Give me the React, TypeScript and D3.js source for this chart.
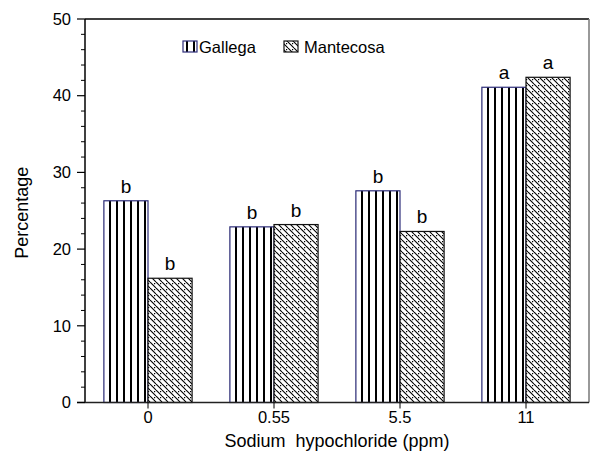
import React from "react";
import * as d3 from "d3";

// chart data
const categories = ["0", "0.55", "5.5", "11"];
const series = ["Gallega", "Mantecosa"];
const gallega = [26.3, 22.9, 27.6, 41.1];
const mantecosa = [16.2, 23.2, 22.3, 42.4];
const gallegaLetters = ["b", "b", "b", "a"];
const mantecosaLetters = ["b", "b", "b", "a"];
const yTicks = [0, 10, 20, 30, 40, 50];

const width = 590;
const height = 462;
const margin = { top: 19, right: 1, bottom: 60, left: 85 };
const font = "Arial, 'Liberation Sans', sans-serif";

const App = () => {
  const x = d3
    .scaleBand()
    .domain(categories)
    .range([margin.left, width - margin.right])
    .paddingInner(0.3)
    .paddingOuter(0.15);

  const sub = d3.scaleBand().domain(series).range([0, x.bandwidth()]);

  const y = d3
    .scaleLinear()
    .domain([0, 50])
    .range([height - margin.bottom + 0.5, margin.top]);

  const minorTicks = d3.range(0, 51, 2).filter((v) => v % 10 !== 0);
  const x0 = margin.left;
  const x1 = width - margin.right;
  const yTop = y(50);
  const yBase = y(0);

  const values = [gallega, mantecosa];
  const letters = [gallegaLetters, mantecosaLetters];
  const fills = ["url(#vert)", "url(#diag)"];
  const strokes = ["#2e2e7a", "#111"];

  return (
    <svg
      width={width}
      height={height}
      style={{ position: "absolute", left: 0, top: 0, background: "#fff" }}
      fontFamily={font}
    >
      <defs>
        {/* vertical stripes for Gallega */}
        <pattern id="vert" width="7" height="7" patternUnits="userSpaceOnUse">
          <rect width="7" height="7" fill="#fff" />
          <rect x="4" width="2" height="7" fill="#000" />
        </pattern>
        {/* diagonal lines with dots for Mantecosa */}
        <pattern id="diag" width="6" height="6" patternUnits="userSpaceOnUse">
          <rect width="6" height="6" fill="#fff" />
          <path d="M0,0 L6,6 M-3,3 L0,6 M3,-3 L6,0" stroke="#000" strokeWidth="1.1" />
          <rect x="4" y="1" width="1.2" height="1.2" fill="#000" />
        </pattern>
      </defs>

      {/* bars */}
      {categories.map((c, i) =>
        series.map((s, k) => {
          const bx = (x(c) ?? 0) + (sub(s) ?? 0);
          const by = y(values[k][i]);
          return (
            <g key={c + s}>
              <rect
                x={bx}
                y={by}
                width={sub.bandwidth()}
                height={yBase - by}
                fill={fills[k]}
                stroke={strokes[k]}
                strokeWidth={1.2}
              />
              <text
                x={bx + sub.bandwidth() / 2}
                y={by - 8}
                textAnchor="middle"
                fontSize={19}
              >
                {letters[k][i]}
              </text>
            </g>
          );
        })
      )}

      {/* frame */}
      <line x1={x0} x2={x1} y1={yTop} y2={yTop} stroke="#000" strokeWidth={1.5} />
      <line x1={x1} x2={x1} y1={yTop} y2={yBase} stroke="#777" strokeWidth={1.5} />
      <line x1={x0} x2={x0} y1={yTop} y2={yBase} stroke="#000" strokeWidth={1.5} />
      <line x1={x0 - 8} x2={x1} y1={yBase} y2={yBase} stroke="#222" strokeWidth={1.5} />

      {/* y ticks */}
      {yTicks.map((t) => (
        <g key={t}>
          <line x1={x0 - 8} x2={x0} y1={y(t)} y2={y(t)} stroke="#000" strokeWidth={1.2} />
          <text x={x0 - 14} y={y(t)} dy="0.35em" textAnchor="end" fontSize={16.5}>
            {t}
          </text>
        </g>
      ))}
      {minorTicks.map((t) => (
        <line key={t} x1={x0 - 4} x2={x0} y1={y(t)} y2={y(t)} stroke="#000" strokeWidth={1} />
      ))}

      {/* x ticks */}
      {categories.map((c) => {
        const cx = (x(c) ?? 0) + x.bandwidth() / 2;
        return (
          <g key={c}>
            <line x1={cx} x2={cx} y1={yBase} y2={yBase + 6} stroke="#000" strokeWidth={1} />
            <text x={cx} y={yBase + 20.5} textAnchor="middle" fontSize={16.5}>
              {c}
            </text>
          </g>
        );
      })}

      {/* axis titles */}
      <text
        x={337}
        y={447}
        textAnchor="middle"
        fontSize={18}
        style={{ whiteSpace: "pre" }}
      >
        {"Sodium  hypochloride (ppm)"}
      </text>
      <text
        transform={`translate(28, ${(yTop + yBase) / 2 + 2}) rotate(-90)`}
        textAnchor="middle"
        fontSize={18}
      >
        Percentage
      </text>

      {/* legend */}
      <rect x={183} y={41} width={14} height={11} fill="url(#vert)" stroke="#2e2e7a" strokeWidth={1.2} />
      <text x={199} y={53} fontSize={16.5}>
        Gallega
      </text>
      <rect x={284} y={41} width={14} height={11} fill="url(#diag)" stroke="#111" strokeWidth={1.2} />
      <text x={304} y={53} fontSize={16.5}>
        Mantecosa
      </text>
    </svg>
  );
};

export default App;
